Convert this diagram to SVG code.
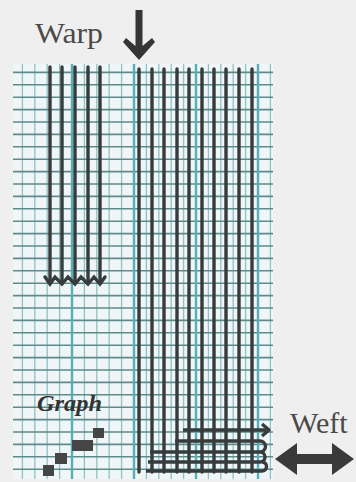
<svg xmlns="http://www.w3.org/2000/svg" width="356" height="482" viewBox="0 0 356 482">
<style>
.minor{stroke:#8fc2c4;stroke-width:1.3;fill:none}
.major{stroke:#55b0b8;stroke-width:2.4;fill:none}
.hline{stroke:#5e8a8b;stroke-width:1.6;fill:none}
.warp{stroke:#363b3b;stroke-width:3.4;fill:none;stroke-linecap:round}
.weft{stroke:#363b3c;stroke-width:3.4;fill:none;stroke-linejoin:round}
.lbl{font-family:"Liberation Serif",serif;font-size:30px;fill:#4a4a4a}
</style>
<rect x="0" y="0" width="356" height="482" fill="#efefef"/>
<g id="paper">
<rect x="13" y="64" width="260" height="415" fill="#f0f6f7"/>
<path class="minor" d="M22.4,64V479M34.8,64V479M47.2,64V479M59.6,64V479M84.4,64V479M96.8,64V479M109.2,64V479M121.6,64V479M146.4,64V479M158.8,64V479M171.2,64V479M183.6,64V479M208.4,64V479M220.8,64V479M233.2,64V479M245.6,64V479M270.4,64V479"/>
<path class="hline" d="M13,72.4H273M13,84.8H273M13,97.2H273M13,109.6H273M13,122H273M13,134.4H273M13,146.8H273M13,159.2H273M13,171.6H273M13,184H273M13,196.4H273M13,208.8H273M13,221.2H273M13,233.6H273M13,246H273M13,258.4H273M13,270.8H273M13,283.2H273M13,295.6H273M13,308H273M13,320.4H273M13,332.8H273M13,345.2H273M13,357.6H273M13,370H273M13,382.4H273M13,394.8H273M13,407.2H273M13,419.6H273M13,432H273M13,444.4H273M13,456.8H273M13,469.2H273"/>
<path class="major" d="M72,64V479M134,64V479M196,64V479M258,64V479"/>
</g>
<g id="warp-left">
<path class="warp" d="M50,67V283M62,67V283M75,67V283M88,67V283M100,67V283"/>
<path class="warp" stroke-width="2.6" d="M45,277L50,284L55,277L62,284L68,277L75,284L81,277L88,284L94,277L100,284L105,277"/>
</g>
<g id="warp-right">
<path class="warp" d="M139,69V472M152,69V472M164,69V472M177,69V472M189,69V472M202,69V472M214,69V472M226,69V472M239,69V472M252,69V472"/>
</g>
<g id="weft">
<path class="weft" d="M183,430H266"/>
<path class="weft" d="M262,424L269,430L262,436"/>
<path class="weft" d="M175,441H260A5.5,5.5 0 0 1 260,452H158M150,452H260A5,5 0 0 1 260,462H148M146,471H262A4.5,4.5 0 0 0 262,462"/>
</g>
<g id="graph-legend">
<text x="37" y="411" font-family="'Liberation Serif',serif" font-size="24" font-style="italic" font-weight="bold" fill="#333" textLength="65" lengthAdjust="spacingAndGlyphs">Graph</text>
<g fill="#454545">
<rect x="93" y="428" width="11" height="10"/>
<rect x="72" y="440" width="21" height="11"/>
<rect x="55" y="453" width="12" height="11"/>
<rect x="43" y="465" width="11" height="11"/>
</g>
</g>
<g id="warp-label">
<text class="lbl" x="35" y="43" textLength="68" lengthAdjust="spacingAndGlyphs">Warp</text>
<path d="M135.5,10H142.5V46L152,38L155,42L139,60L123,42L126,38L135.5,46Z" fill="#353535"/>
</g>
<g id="weft-label">
<text class="lbl" x="290" y="433">Weft</text>
<path d="M275,459L297,443V454H332V443L354,459L332,475V464H297V475Z" fill="#3a3a3a"/>
</g>
</svg>
